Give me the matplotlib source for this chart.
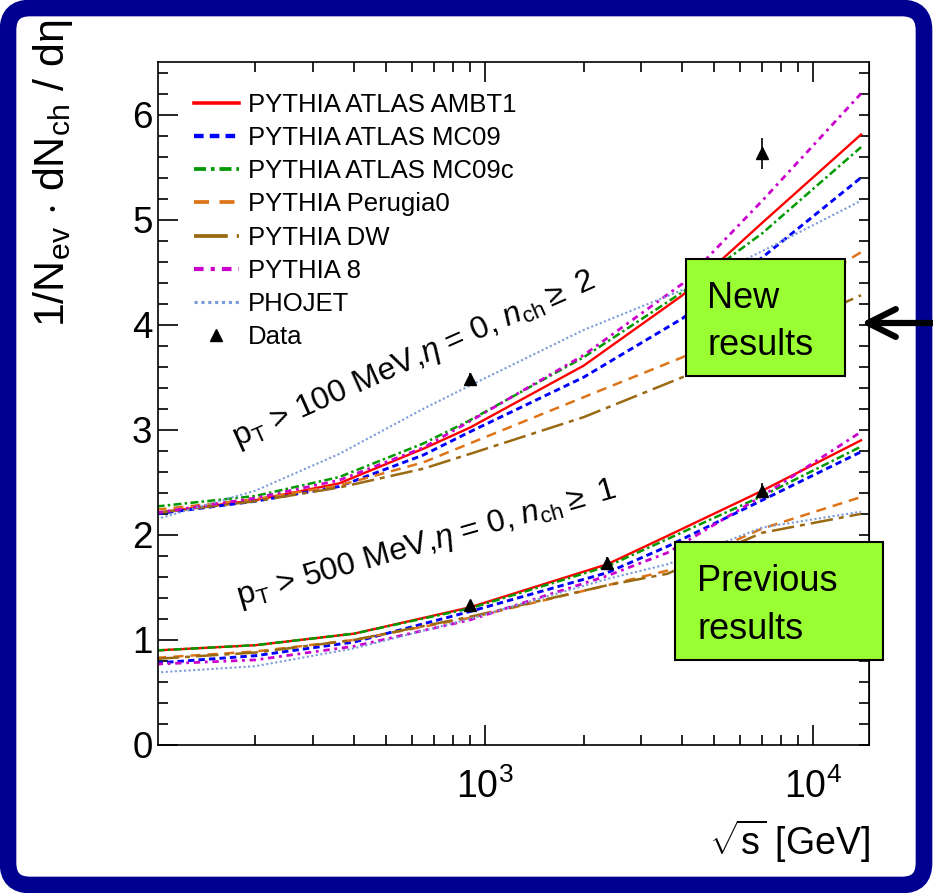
import matplotlib
matplotlib.use('Agg')
import matplotlib.pyplot as plt
from matplotlib.patches import FancyBboxPatch, Rectangle
from matplotlib.transforms import IdentityTransform
from matplotlib.lines import Line2D
from matplotlib.ticker import (FixedLocator, LogLocator, MultipleLocator,
                               NullFormatter, LogFormatterMathtext)

plt.rcParams['font.family'] = ['Liberation Sans', 'DejaVu Sans']
plt.rcParams['mathtext.fontset'] = 'custom'
plt.rcParams['mathtext.rm'] = 'Liberation Sans'
plt.rcParams['mathtext.it'] = 'Liberation Sans:italic'
plt.rcParams['mathtext.bf'] = 'Liberation Sans:bold'

# sqrt(s) [GeV] and dNch/deta at eta=0, pT > 100 MeV, nch >= 2
x_hi = [100, 200, 360, 650, 900, 2000, 4000, 7000, 14000]
ambt1_hi = [2.21, 2.33, 2.49, 2.82, 3.02, 3.61, 4.28, 4.97, 5.81]
mc09_hi = [2.20, 2.32, 2.46, 2.76, 2.98, 3.50, 4.06, 4.64, 5.40]
mc09c_hi = [2.27, 2.37, 2.55, 2.87, 3.09, 3.69, 4.31, 4.87, 5.69]
perugia_hi = [2.24, 2.34, 2.47, 2.69, 2.87, 3.31, 3.69, 4.12, 4.69]
dw_hi = [2.21, 2.32, 2.45, 2.63, 2.77, 3.12, 3.50, 3.87, 4.28]
py8_hi = [2.21, 2.35, 2.52, 2.83, 3.08, 3.71, 4.39, 5.18, 6.20]
phojet_hi = [2.15, 2.42, 2.77, 3.20, 3.42, 3.95, 4.33, 4.70, 5.18]

# pT > 500 MeV, nch >= 1
x_lo = [100, 200, 400, 900, 2360, 3600, 7000, 14000]
ambt1_lo = [0.90, 0.95, 1.06, 1.31, 1.72, 1.99, 2.42, 2.90]
mc09_lo = [0.78, 0.85, 0.98, 1.27, 1.64, 1.89, 2.33, 2.79]
mc09c_lo = [0.90, 0.95, 1.06, 1.30, 1.70, 1.96, 2.37, 2.84]
perugia_lo = [0.83, 0.89, 1.00, 1.21, 1.52, 1.66, 2.06, 2.36]
dw_lo = [0.82, 0.88, 1.00, 1.22, 1.52, 1.63, 2.02, 2.20]
py8_lo = [0.77, 0.81, 0.94, 1.19, 1.61, 1.83, 2.37, 2.98]
phojet_lo = [0.69, 0.75, 0.92, 1.20, 1.58, 1.72, 2.07, 2.22]

# ATLAS data
data_x_hi = [900, 7000]
data_y_hi = [3.48, 5.63]
data_e_hi = [0.06, 0.15]
data_x_lo = [900, 2360, 7000]
data_y_lo = [1.33, 1.73, 2.42]
data_e_lo = [0.03, 0.06, 0.07]

labels = ['PYTHIA ATLAS AMBT1', 'PYTHIA ATLAS MC09', 'PYTHIA ATLAS MC09c',
          'PYTHIA Perugia0', 'PYTHIA DW', 'PYTHIA 8', 'PHOJET']
series_hi = [ambt1_hi, mc09_hi, mc09c_hi, perugia_hi, dw_hi, py8_hi, phojet_hi]
series_lo = [ambt1_lo, mc09_lo, mc09c_lo, perugia_lo, dw_lo, py8_lo, phojet_lo]
colors = ['#ff0000', '#0000ff', '#009a00', '#dd7518', '#9a6a12', '#cc00cc', '#7b9bd8']
styles = ['-', (0, (2.2, 1.4)), (0, (3.2, 1.3, 1.0, 1.3)), (0, (4.0, 2.8)),
          (0, (9.0, 2.4, 2.0, 2.4)), (0, (2.3, 1.7, 1.0, 1.7)), (0, (1.0, 1.2))]
widths = [1.7, 2.1, 1.8, 1.8, 1.8, 2.0, 1.5]

W, H = 933, 893
fig = plt.figure(figsize=(W / 100, H / 100), dpi=100)
fig.patch.set_facecolor('white')

# rounded blue frame
frame = FancyBboxPatch((8, 8), 916, 877, boxstyle='round,pad=0,rounding_size=22',
                       transform=IdentityTransform(), facecolor='white',
                       edgecolor='#000090', linewidth=12, zorder=-1)
fig.add_artist(frame)

ax = fig.add_axes([158 / W, 1 - 745 / H, 711 / W, 683 / H])
ax.set_facecolor('none')

handles = []
for lab, yh, yl, c, ls, lw in zip(labels, series_hi, series_lo, colors, styles, widths):
    l, = ax.plot(x_hi, yh, color=c, linestyle=ls, lw=lw, label=lab)
    ax.plot(x_lo, yl, color=c, linestyle=ls, lw=lw)
    handles.append(l)

ax.errorbar(data_x_hi, data_y_hi, yerr=data_e_hi, fmt='^', color='black',
            ms=9, elinewidth=1.2, capsize=0, zorder=5)
ax.errorbar(data_x_lo, data_y_lo, yerr=data_e_lo, fmt='^', color='black',
            ms=9, elinewidth=1.2, capsize=0, zorder=5)
handles.append(Line2D([], [], marker='^', color='black', ls='none', ms=9, label='Data'))

ax.set_xscale('log')
ax.set_xlim(101, 14800)
ax.set_ylim(0, 6.5)
ax.xaxis.set_major_locator(FixedLocator([1e3, 1e4]))
ax.xaxis.set_major_formatter(LogFormatterMathtext())
ax.xaxis.set_minor_locator(LogLocator(base=10, subs=range(2, 10)))
ax.xaxis.set_minor_formatter(NullFormatter())
ax.yaxis.set_major_locator(MultipleLocator(1))
ax.yaxis.set_minor_locator(MultipleLocator(0.2))

ax.tick_params(which='both', direction='in', top=True, right=False, width=1.2)
ax.tick_params(which='major', length=14.5)
ax.tick_params(which='minor', length=7)
ax.tick_params(axis='y', labelsize=26.5, pad=4)
ax.tick_params(axis='x', labelsize=27, pad=17)
for s in ax.spines.values():
    s.set_linewidth(1.2)

# right-hand ticks are all short
sec = ax.secondary_yaxis('right')
sec.yaxis.set_major_locator(MultipleLocator(1))
sec.yaxis.set_minor_locator(MultipleLocator(0.2))
sec.tick_params(which='both', direction='in', length=7, width=1.2, labelright=False)

leg = ax.legend(handles=handles, loc='upper left', bbox_to_anchor=(0.05, 0.955),
                frameon=False, fontsize=18.5, handlelength=1.75, handletextpad=0.35,
                labelspacing=0.36, borderpad=0, borderaxespad=0, numpoints=1)
for ln in leg.get_lines()[:-1]:
    ln.set_linewidth(ln.get_linewidth() * 1.5)

ax.text(0.111, 0.436, r'p$_{\rm T}$ > 100 MeV,$\eta$ = 0, $n_{\rm ch}\geq$ 2',
        transform=ax.transAxes, rotation=24, rotation_mode='anchor',
        ha='left', va='baseline', fontsize=23)
ax.text(0.115, 0.205, r'p$_{\rm T}$ > 500 MeV,$\eta$ = 0, $n_{\rm ch}\geq$ 1',
        transform=ax.transAxes, rotation=16, rotation_mode='anchor',
        ha='left', va='baseline', fontsize=23)

fig.text(64 / W, 1 - 20 / H, r'1/N$_{\rm ev}$ $\cdot$ dN$_{\rm ch}$ / dη',
         rotation=90, rotation_mode='anchor', ha='right', va='baseline', fontsize=31)
fig.text(870 / W, 1 - 855 / H, r'$\sqrt{\rm s}$ [GeV]', ha='right', va='baseline',
         fontsize=27)

# green boxes
green = '#99ff33'
fig.add_artist(Rectangle((686 / W, 1 - 376 / H), 159 / W, 117 / H,
                         transform=fig.transFigure, facecolor=green,
                         edgecolor='black', lw=1.5, zorder=5))
fig.text(707 / W, 1 - 308 / H, 'New', fontsize=26, zorder=6)
fig.text(707 / W, 1 - 355 / H, 'results', fontsize=26, zorder=6)
fig.add_artist(Rectangle((675 / W, 1 - 660 / H), 208 / W, 118 / H,
                         transform=fig.transFigure, facecolor=green,
                         edgecolor='black', lw=1.5, zorder=5))
fig.text(697 / W, 1 - 591 / H, 'Previous', fontsize=26, zorder=6)
fig.text(697 / W, 1 - 639 / H, 'results', fontsize=26, zorder=6)

# arrow pointing at the new results
ax.annotate('', xy=(861, H - 323), xycoords='figure pixels',
            xytext=(933, H - 323), textcoords='figure pixels',
            arrowprops=dict(arrowstyle='->,head_length=2.0,head_width=1.0',
                            lw=4.5, color='black', shrinkA=0, shrinkB=0),
            annotation_clip=False)

fig.savefig('out.png', dpi=100)
